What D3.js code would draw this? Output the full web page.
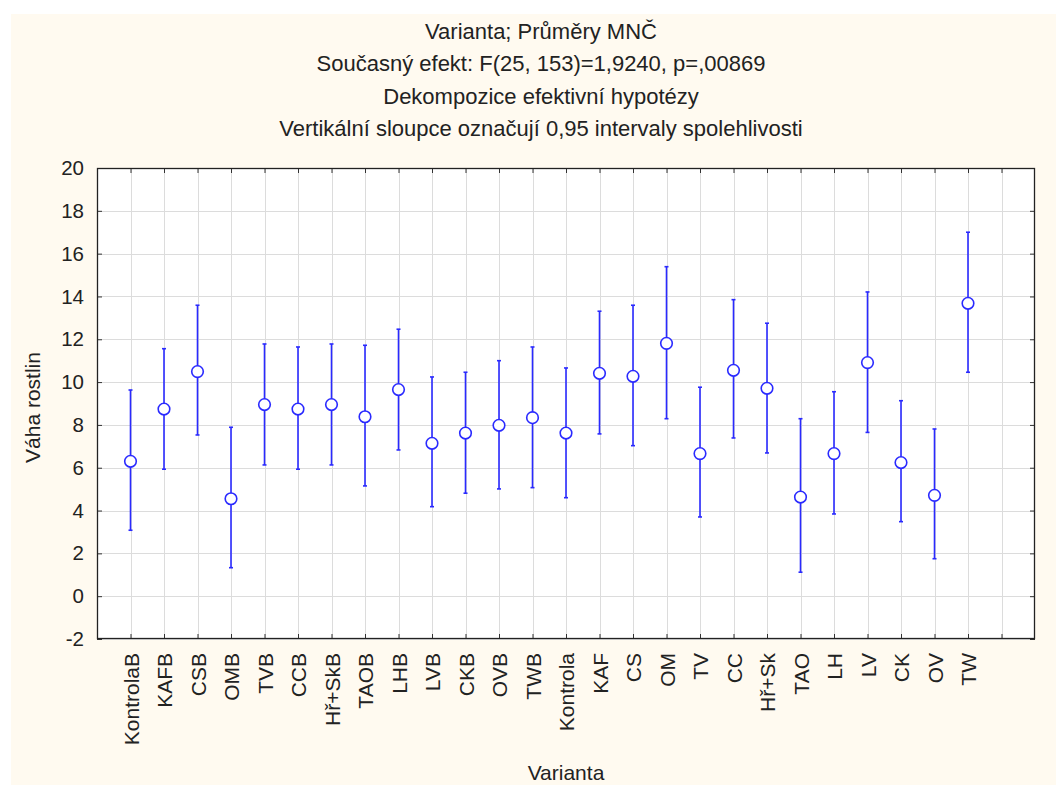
<!DOCTYPE html>
<html>
<head>
<meta charset="utf-8">
<script src="https://cdn.jsdelivr.net/npm/d3@7/dist/d3.min.js"></script>
<style>
  html, body { margin: 0; padding: 0; background: #ffffff; }
  svg { display: block; }
  text { font-family: "Liberation Sans", Arial, sans-serif; fill: #222; }
</style>
</head>
<body>
<script>
// ---- Data ----
const categories = ["KontrolaB","KAFB","CSB","OMB","TVB","CCB","Hř+SkB","TAOB","LHB","LVB","CKB","OVB","TWB",
                    "Kontrola","KAF","CS","OM","TV","CC","Hř+Sk","TAO","LH","LV","CK","OV","TW"];
const means = [6.30, 8.74, 10.49, 4.55, 8.95, 8.74, 8.95, 8.38, 9.65, 7.14, 7.62, 7.98, 8.34,
               7.62, 10.41, 10.27, 11.81, 6.66, 10.55, 9.71, 4.63, 6.66, 10.91, 6.24, 4.71, 13.68];
const lower = [3.08, 5.93, 7.53, 1.33, 6.13, 5.93, 6.13, 5.15, 6.83, 4.18, 4.81, 5.01, 5.07,
               4.60, 7.58, 7.03, 8.29, 3.70, 7.39, 6.69, 1.12, 3.84, 7.65, 3.48, 1.75, 10.46];
const upper = [9.63, 11.56, 13.59, 7.89, 11.78, 11.64, 11.78, 11.72, 12.47, 10.24, 10.46, 11.00, 11.64,
               10.66, 13.31, 13.59, 15.39, 9.76, 13.85, 12.75, 8.29, 9.55, 14.21, 9.13, 7.81, 17.00];
const yTicks = [-2, 0, 2, 4, 6, 8, 10, 12, 14, 16, 18, 20];
const titleLines = ["Varianta; Průměry MNČ",
                    "Současný efekt: F(25, 153)=1,9240, p=,00869",
                    "Dekompozice efektivní hypotézy",
                    "Vertikální sloupce označují 0,95 intervaly spolehlivosti"];
const xTitle = "Varianta";
const yTitle = "Váha rostlin";

// ---- Layout ----
const W = 1056, H = 785;
const plot = { left: 97, right: 1035, top: 168, bottom: 639 };
const blue = "#2a2aff";
const FONT = "'Liberation Sans', Arial, sans-serif";

const svg = d3.select("body").append("svg").attr("width", W).attr("height", H);

svg.append("rect").attr("x", 11).attr("y", 14).attr("width", W - 11).attr("height", H - 14)
   .attr("fill", "#fffaf0");

const idx = d3.range(categories.length + 1); // extra empty slot at the end
const x = d3.scaleLinear().domain([-1, categories.length + 1]).range([plot.left, plot.right]);
const y = d3.scaleLinear().domain([-2, 20]).range([plot.bottom, plot.top]);

svg.append("rect").attr("x", plot.left).attr("y", plot.top)
   .attr("width", plot.right - plot.left).attr("height", plot.bottom - plot.top)
   .attr("fill", "#ffffff");

// grid
const grid = svg.append("g").attr("stroke", "#dcdcdc").attr("stroke-width", 1);
grid.selectAll("line.v").data(idx).join("line").attr("class", "v")
    .attr("x1", d => Math.round(x(d)) + 0.5).attr("x2", d => Math.round(x(d)) + 0.5)
    .attr("y1", plot.top).attr("y2", plot.bottom);
grid.selectAll("line.h").data(yTicks).join("line").attr("class", "h")
    .attr("x1", plot.left).attr("x2", plot.right)
    .attr("y1", d => Math.round(y(d)) + 0.5).attr("y2", d => Math.round(y(d)) + 0.5);

// axes (ticks inward)
const tickLen = 5;
const axBottom = d3.axisBottom(x).tickValues(idx).tickSizeInner(-tickLen).tickSizeOuter(0)
  .tickFormat(d => categories[d] || "");
const gB = svg.append("g").attr("transform", `translate(0,${plot.bottom})`).call(axBottom);
gB.select(".domain").remove();
gB.selectAll(".tick line").attr("stroke", "#333");
gB.selectAll(".tick text")
  .attr("transform", "rotate(-90)")
  .attr("text-anchor", "end")
  .attr("x", -14).attr("y", 0).attr("dy", "0.36em")
  .style("font-size", "21px").style("font-family", FONT).attr("fill", "#222");

const axTop = d3.axisTop(x).tickValues(idx).tickSizeInner(-tickLen).tickSizeOuter(0).tickFormat("");
const gT = svg.append("g").attr("transform", `translate(0,${plot.top})`).call(axTop);
gT.select(".domain").remove();
gT.selectAll(".tick line").attr("stroke", "#333");

const axLeft = d3.axisLeft(y).tickValues(yTicks).tickSizeInner(-tickLen).tickSizeOuter(0).tickPadding(13)
  .tickFormat(d => String(d));
const gL = svg.append("g").attr("transform", `translate(${plot.left},0)`).call(axLeft);
gL.select(".domain").remove();
gL.selectAll(".tick line").attr("stroke", "#333");
gL.selectAll(".tick text").style("font-size", "20.5px")
  .style("font-family", FONT).attr("fill", "#222");

const axRight = d3.axisRight(y).tickValues(yTicks).tickSizeInner(-tickLen).tickSizeOuter(0).tickFormat("");
const gR = svg.append("g").attr("transform", `translate(${plot.right},0)`).call(axRight);
gR.select(".domain").remove();
gR.selectAll(".tick line").attr("stroke", "#333");

// border
svg.append("rect").attr("x", plot.left + 0.5).attr("y", plot.top + 0.5)
   .attr("width", plot.right - plot.left - 1).attr("height", plot.bottom - plot.top - 1)
   .attr("fill", "none").attr("stroke", "#222").attr("stroke-width", 1.3);

// error bars and means
const data = categories.map((c, i) => ({ i, m: means[i], lo: lower[i], hi: upper[i] }));
const g = svg.append("g");
g.selectAll("line.bar").data(data).join("line").attr("class", "bar")
  .attr("x1", d => x(d.i)).attr("x2", d => x(d.i))
  .attr("y1", d => y(d.lo)).attr("y2", d => y(d.hi))
  .attr("stroke", blue).attr("stroke-width", 1.6);
g.selectAll("line.capHi").data(data).join("line").attr("class", "capHi")
  .attr("x1", d => x(d.i) - 2).attr("x2", d => x(d.i) + 2)
  .attr("y1", d => y(d.hi)).attr("y2", d => y(d.hi))
  .attr("stroke", blue).attr("stroke-width", 1.6);
g.selectAll("line.capLo").data(data).join("line").attr("class", "capLo")
  .attr("x1", d => x(d.i) - 2).attr("x2", d => x(d.i) + 2)
  .attr("y1", d => y(d.lo)).attr("y2", d => y(d.lo))
  .attr("stroke", blue).attr("stroke-width", 1.6);
g.selectAll("circle").data(data).join("circle")
  .attr("cx", d => x(d.i)).attr("cy", d => y(d.m)).attr("r", 5.8)
  .attr("fill", "#ffffff").attr("stroke", blue).attr("stroke-width", 1.6);

// titles
const titleX = 541;
svg.selectAll("text.title").data(titleLines).join("text").attr("class", "title")
  .attr("x", titleX).attr("y", (d, i) => 39 + i * 32.3)
  .attr("text-anchor", "middle").style("font-size", "22px").text(d => d);

svg.append("text").attr("x", (plot.left + plot.right) / 2).attr("y", 780)
  .attr("text-anchor", "middle").style("font-size", "21px").text(xTitle);

svg.append("text").attr("transform", `translate(40,${(plot.top + plot.bottom) / 2 + 4}) rotate(-90)`)
  .attr("text-anchor", "middle").style("font-size", "21px").text(yTitle);
</script>
</body>
</html>
